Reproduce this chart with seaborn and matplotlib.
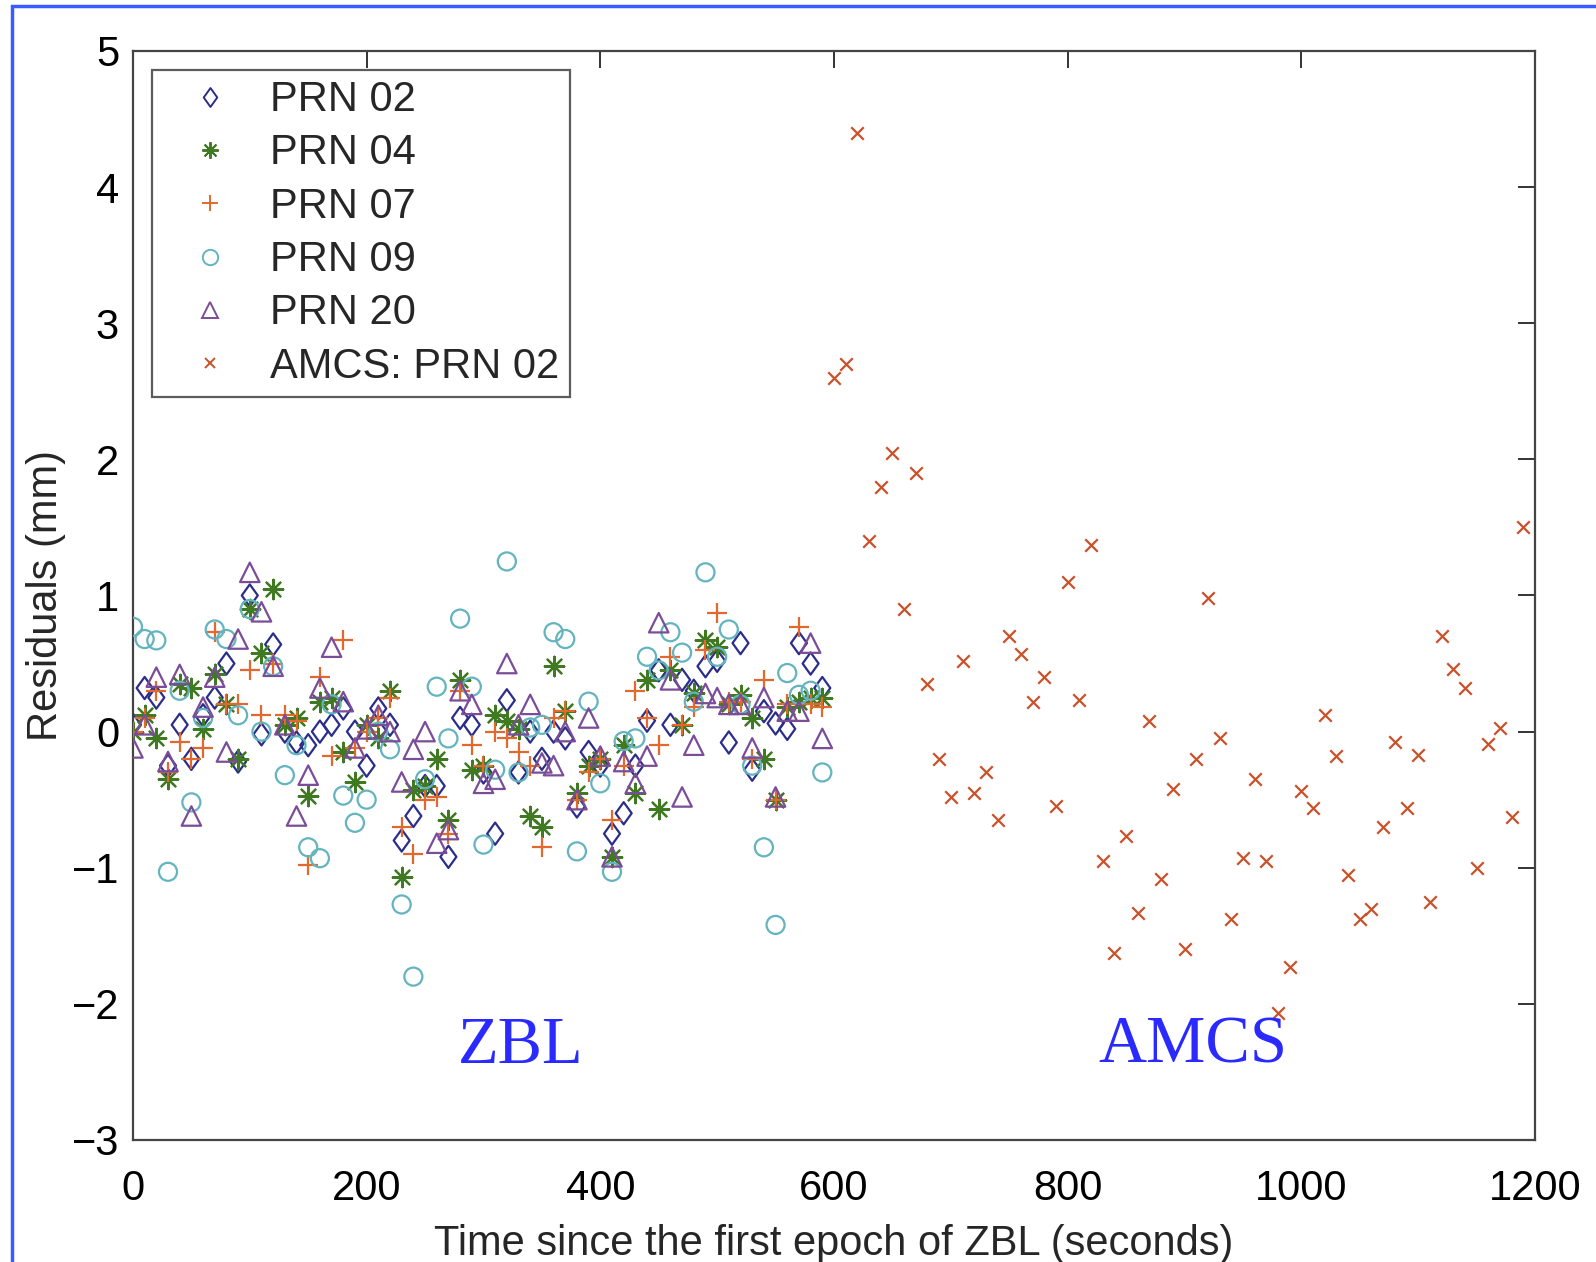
import numpy as np
import pandas as pd
import matplotlib
matplotlib.use("Agg")
import matplotlib.pyplot as plt
from matplotlib.patches import Rectangle
from matplotlib.path import Path
import seaborn as sns

# ---------------- data ----------------
zbl_time = list(range(0, 600, 10))
amcs_time = list(range(600, 1200, 10))

prn02 = [0.05, 0.32, 0.25, -0.25, 0.05, -0.2, 0.12, 0.25, 0.5, -0.22,
         1.0, -0.02, 0.64, 0.0, -0.08, -0.1, 0.0, 0.05, 0.17, 0.0,
         -0.25, 0.17, 0.05, -0.8, -0.62, -0.4, -0.4, -0.92, 0.1, 0.05,
         -0.3, -0.75, 0.23, -0.3, 0.0, -0.2, 0.0, -0.05, -0.55, -0.15,
         -0.25, -0.75, -0.6, -0.25, 0.08, 0.45, 0.05, 0.38, 0.3, 0.48,
         0.52, -0.08, 0.65, -0.28, 0.15, 0.06, 0.02, 0.65, 0.5, 0.32]
prn04 = [0.0, 0.12, -0.05, -0.35, 0.35, 0.32, 0.02, 0.42, 0.2, -0.2,
         0.9, 0.58, 1.05, 0.05, 0.1, -0.47, 0.22, 0.25, -0.15, -0.37,
         0.05, -0.05, 0.3, -1.07, -0.43, -0.4, -0.2, -0.65, 0.38, -0.28,
         -0.25, 0.12, 0.08, 0.02, -0.62, -0.7, 0.48, 0.15, -0.45, -0.25,
         -0.2, -0.92, -0.1, -0.45, 0.38, -0.57, 0.45, 0.05, 0.28, 0.67,
         0.62, 0.2, 0.27, 0.1, -0.2, -0.5, 0.18, 0.22, 0.25, 0.25]
prn07 = [0.0, 0.1, 0.3, -0.3, -0.08, -0.2, -0.12, 0.73, 0.2, 0.2,
         0.45, 0.12, 0.5, 0.12, 0.08, -0.98, 0.4, -0.18, 0.67, -0.12,
         0.0, 0.1, 0.25, -0.7, -0.9, -0.5, -0.48, -0.75, 0.3, -0.1,
         -0.25, 0.0, -0.05, -0.15, -0.25, -0.85, 0.1, 0.15, -0.5, -0.3,
         -0.2, -0.65, -0.25, 0.3, 0.1, -0.1, 0.55, 0.05, 0.18, 0.6,
         0.87, 0.22, 0.22, -0.2, 0.38, -0.5, 0.2, 0.77, 0.2, 0.18]
prn09 = [0.77, 0.68, 0.67, -1.03, 0.3, -0.52, 0.1, 0.75, 0.68, 0.12,
         0.9, 0.0, 0.48, -0.32, -0.1, -0.85, -0.93, 0.2, -0.47, -0.67,
         -0.5, 0.0, -0.13, -1.27, -1.8, -0.35, 0.33, -0.05, 0.83, 0.33,
         -0.83, -0.28, 1.25, -0.3, 0.03, 0.05, 0.73, 0.68, -0.88, 0.22,
         -0.38, -1.03, -0.07, -0.05, 0.55, 0.45, 0.73, 0.58, 0.22, 1.17,
         0.55, 0.75, 0.2, -0.25, -0.85, -1.42, 0.43, 0.27, 0.3, -0.3]
prn20 = [-0.12, 0.05, 0.4, -0.22, 0.42, -0.62, 0.18, 0.4, -0.15, 0.68,
         1.17, 0.88, 0.48, 0.05, -0.62, -0.32, 0.32, 0.62, 0.22, -0.12,
         0.02, 0.12, 0.0, -0.37, -0.13, 0.0, -0.82, -0.72, 0.3, 0.2,
         -0.38, -0.35, 0.5, 0.05, 0.2, -0.23, -0.25, 0.0, -0.5, 0.1,
         -0.18, -0.92, -0.22, -0.38, -0.18, 0.8, 0.38, -0.48, -0.1, 0.28,
         0.25, 0.2, 0.2, -0.12, 0.25, -0.48, 0.15, 0.15, 0.65, -0.05]
amcs02 = [2.6, 2.7, 4.4, 1.4, 1.8, 2.05, 0.9, 1.9, 0.35, -0.2,
          -0.48, 0.52, -0.45, -0.3, -0.65, 0.7, 0.57, 0.22, 0.4, -0.55,
          1.1, 0.23, 1.37, -0.95, -1.63, -0.77, -1.33, 0.08, -1.08, -0.42,
          -1.6, -0.2, 0.98, -0.05, -1.38, -0.93, -0.35, -0.95, -2.07, -1.73,
          -0.44, -0.56, 0.12, -0.18, -1.05, -1.38, -1.3, -0.7, -0.08, -0.56,
          -0.17, -1.25, 0.7, 0.46, 0.32, -1.0, -0.09, 0.03, -0.63, 1.5]

labels = ["PRN 02", "PRN 04", "PRN 07", "PRN 09", "PRN 20", "AMCS: PRN 02"]
x_ticks = [0, 200, 400, 600, 800, 1000, 1200]
y_ticks = [-3, -2, -1, 0, 1, 2, 3, 4, 5]

# ---------------- style ----------------
sns.set_theme(style="white")
plt.rcParams['font.family'] = ['Liberation Sans', 'DejaVu Sans']
plt.rcParams['axes.unicode_minus'] = True

FS = 30
fig = plt.figure(figsize=(15.96, 12.62), dpi=100)
ax = fig.add_axes([0.0833, 0.0967, 0.8785, 0.8629])

diamond = Path([(0, 1), (0.72, 0), (0, -1), (-0.72, 0), (0, 1)],
               [Path.MOVETO, Path.LINETO, Path.LINETO, Path.LINETO,
                Path.CLOSEPOLY])

series = [
    (zbl_time, prn02, diamond, "#2b2d8a", 16, True),
    (zbl_time, prn04, (8, 2, 0), "#3f7a22", 14, False),
    (zbl_time, prn07, "+", "#e2682e", 14, False),
    (zbl_time, prn09, "o", "#63b4bf", 13, True),
    (zbl_time, prn20, "^", "#7b4c98", 14, True),
    (amcs_time, amcs02, "x", "#c9522a", 9, False),
]

handles = []
for (xs, ys, mk, col, ms, hollow), lab in zip(series, labels):
    df = pd.DataFrame({"t": xs, "r": ys})
    if hollow:
        sns.scatterplot(data=df, x="t", y="r", marker=mk, s=ms**2,
                        facecolors="none", edgecolor=col, linewidth=1.6,
                        ax=ax, zorder=3)
    else:
        sns.scatterplot(data=df, x="t", y="r", marker=mk, s=ms**2,
                        color=col, linewidth=1.6, ax=ax, zorder=3)
    handles.append(plt.Line2D([], [], linestyle="none", marker=mk,
                              markersize=ms * 0.85,
                              markerfacecolor="none" if hollow else col,
                              markeredgecolor=col, markeredgewidth=1.4,
                              label=lab))

ax.set_xlim(0, 1200)
ax.set_ylim(-3, 5)
ax.set_xticks(x_ticks)
ax.set_yticks(y_ticks)
ax.tick_params(direction="in", length=12, width=1.4, top=True, right=True,
               labelsize=FS, colors="#333333", labelcolor="black")
ax.tick_params(axis="x", pad=21)
ax.tick_params(axis="y", pad=10)
for sp in ax.spines.values():
    sp.set_visible(True)
    sp.set_color("#444444")
    sp.set_linewidth(1.6)

ax.set_xlabel("Time since the first epoch of ZBL (seconds)", fontsize=FS,
              labelpad=11)
ax.set_ylabel("Residuals (mm)", fontsize=FS, labelpad=4)

leg = ax.legend(handles=handles, loc="upper left", fontsize=FS,
                frameon=True, fancybox=False, edgecolor="#333333",
                borderaxespad=0.45, handletextpad=0.3, labelspacing=0.32,
                borderpad=0.25, handlelength=2.3)
leg.get_frame().set_linewidth(1.6)

ax.text(332, -2.31, "ZBL", fontsize=48, color="#2a2aff",
        family=["Liberation Serif", "DejaVu Serif"], ha="center", va="center")
ax.text(907, -2.31, "AMCS", fontsize=48, color="#2a2aff",
        family=["Liberation Serif", "DejaVu Serif"], ha="center", va="center")

# blue frame around the image
fig.patches.append(Rectangle((12 / 1596, -0.05), 1.2, 1.05 - 6 / 1262,
                             transform=fig.transFigure, fill=False,
                             edgecolor="#3a5cff", linewidth=2.5))

fig.savefig("out.png", dpi=100)
